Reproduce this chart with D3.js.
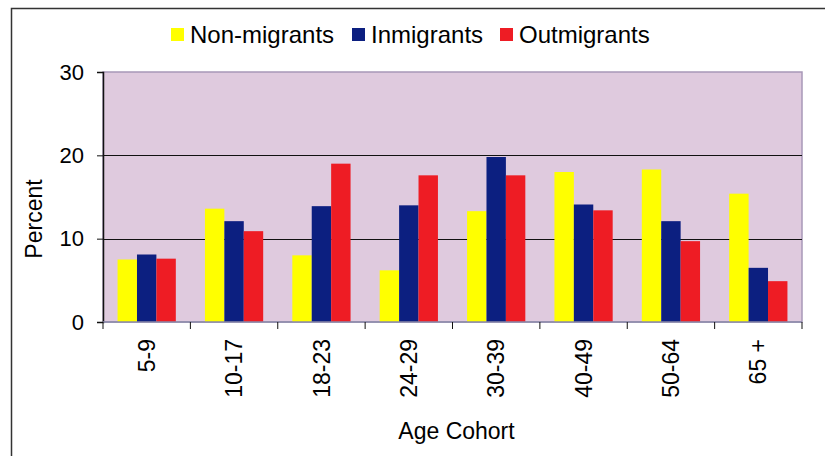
<!DOCTYPE html>
<html>
<head>
    <script src="https://d3js.org/d3.v7.min.js"></script>
    <style>
        body { margin: 0; background: #fff; }
        text { font-family: "Liberation Sans", Arial, sans-serif; fill: #000; }
        .tick-label { font-size: 23px; }
        .ytick { font-size: 22px; }
        .legend text { font-size: 24px; }
        .axis-title { font-size: 23px; text-anchor: middle; }
    </style>
</head>
<body>
<svg width="825" height="456"></svg>
<script>
    // data
    const cohorts = ["5-9", "10-17", "18-23", "24-29", "30-39", "40-49", "50-64", "65 +"];
    const seriesNames = ["Non-migrants", "Inmigrants", "Outmigrants"];
    const nonMigrants = [7.5, 13.6, 8.0, 6.2, 13.3, 18.0, 18.3, 15.4];
    const inMigrants = [8.1, 12.1, 13.9, 14.0, 19.8, 14.1, 12.1, 6.5];
    const outMigrants = [7.6, 10.9, 19.0, 17.6, 17.6, 13.4, 9.7, 4.9];
    const yTicks = [0, 10, 20, 30];

    const colors = ["#ffff00", "#0c1f80", "#ee1c24"];
    const values = [nonMigrants, inMigrants, outMigrants];

    const plot = {left: 103, right: 802, top: 72, bottom: 322};

    const svg = d3.select("svg");

    // outer frame (runs off the right and bottom edge)
    svg.append("path")
        .attr("d", "M11.5,460 V8.5 H830")
        .attr("fill", "none")
        .attr("stroke", "#333")
        .attr("stroke-width", 1.5);

    const x = d3.scaleBand().domain(cohorts).range([plot.left, plot.right]);
    const bw = x.bandwidth();
    const xSub = d3.scaleBand().domain(seriesNames).range([bw / 6, bw * 5 / 6]);
    const y = d3.scaleLinear().domain([0, 30]).range([plot.bottom, plot.top]);

    // plot background
    svg.append("rect")
        .attr("x", plot.left)
        .attr("y", plot.top)
        .attr("width", plot.right - plot.left)
        .attr("height", plot.bottom - plot.top)
        .attr("fill", "#dfcade")
        .attr("stroke", "#a898b8")
        .attr("stroke-width", 1.5);

    // grid lines
    svg.append("g").selectAll("line")
        .data(yTicks.filter(d => d > 0 && d < 30))
        .join("line")
        .attr("x1", plot.left)
        .attr("x2", plot.right)
        .attr("y1", d => Math.round(y(d)) + 0.5)
        .attr("y2", d => Math.round(y(d)) + 0.5)
        .attr("stroke", "#111")
        .attr("stroke-width", 1.2);

    // bars
    seriesNames.forEach(function(name, si) {
        svg.append("g").selectAll("rect")
            .data(values[si])
            .join("rect")
            .attr("x", (d, i) => x(cohorts[i]) + xSub(name))
            .attr("y", d => y(d))
            .attr("width", xSub.bandwidth())
            .attr("height", d => y(0) - y(d))
            .attr("fill", colors[si]);
    });

    // y axis
    const yAxis = svg.append("g")
        .attr("transform", "translate(" + plot.left + ",0)")
        .call(d3.axisLeft(y).tickValues(yTicks).tickSize(6).tickPadding(13));
    yAxis.select(".domain").attr("stroke", "#111").attr("stroke-width", 1.5);
    yAxis.selectAll(".tick line").attr("stroke", "#111");
    yAxis.selectAll(".tick text")
        .attr("class", "ytick")
        .attr("font-size", null)
        .attr("font-family", null)
        .attr("fill", "#000");

    // x axis: ticks at category boundaries
    const xAxis = svg.append("g")
        .attr("transform", "translate(0," + plot.bottom + ")");
    xAxis.append("line")
        .attr("x1", plot.left)
        .attr("x2", plot.right)
        .attr("stroke", "#8a8aa8")
        .attr("stroke-width", 1.5);
    xAxis.selectAll(".bound")
        .data(cohorts.concat(["end"]))
        .join("line")
        .attr("class", "bound")
        .attr("x1", (d, i) => i < cohorts.length ? x(d) : plot.right)
        .attr("x2", (d, i) => i < cohorts.length ? x(d) : plot.right)
        .attr("y1", 0)
        .attr("y2", 7)
        .attr("stroke", "#111");
    xAxis.selectAll(".tick-label")
        .data(cohorts)
        .join("text")
        .attr("class", "tick-label")
        .attr("transform", d => "translate(" + (x(d) + bw / 2) + ",17) rotate(-90)")
        .attr("dy", "0.35em")
        .attr("text-anchor", "end")
        .text(d => d);

    // axis titles
    svg.append("text")
        .attr("class", "axis-title")
        .attr("x", (plot.left + plot.right) / 2 + 4)
        .attr("y", 439)
        .text("Age Cohort");

    svg.append("text")
        .attr("class", "axis-title")
        .attr("transform", "translate(42,219) rotate(-90)")
        .text("Percent");

    // legend
    const legendX = [171, 352, 500];
    const legend = svg.selectAll(".legend")
        .data(seriesNames)
        .join("g")
        .attr("class", "legend")
        .attr("transform", (d, i) => "translate(" + legendX[i] + ",28)");
    legend.append("rect")
        .attr("width", 13)
        .attr("height", 13)
        .attr("fill", (d, i) => colors[i]);
    legend.append("text")
        .attr("x", 19)
        .attr("y", 15)
        .text(d => d);
</script>
</body>
</html>
